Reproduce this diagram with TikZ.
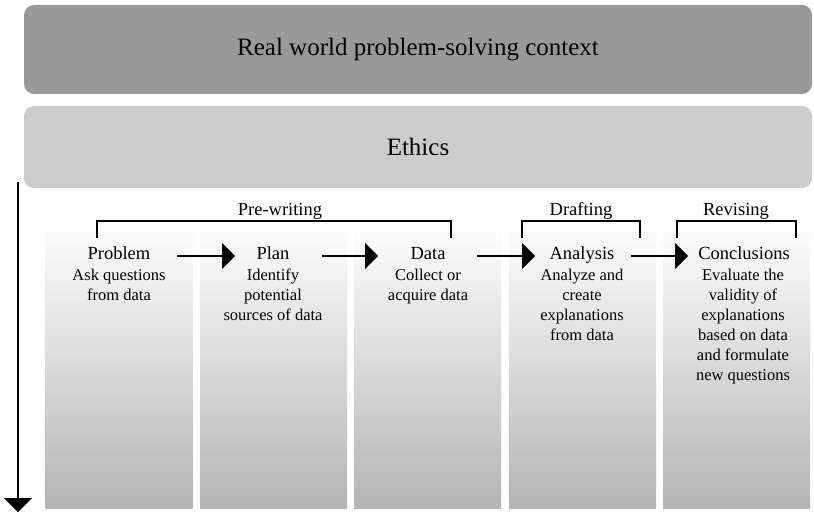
\documentclass[tikz,border=0pt]{standalone}
\usepackage{fontspec}
\setmainfont{Liberation Serif}
\usetikzlibrary{arrows.meta,shapes.geometric}
\definecolor{ctxgray}{RGB}{153,153,153}
\definecolor{ethgray}{RGB}{204,204,204}
\definecolor{colbot}{RGB}{180,180,180}
\tikzset{
  bigbox/.style={rounded corners=10pt, draw=none, minimum width=788pt, inner sep=0pt},
  colbox/.style={draw=none, minimum width=147pt, minimum height=285pt, inner sep=0pt,
                 top color=white, bottom color=colbot},
  ttl/.style={font=\fontsize{18.5}{20}\selectfont, anchor=base, inner sep=0pt},
  body/.style={font=\fontsize{16.5}{20}\selectfont, anchor=base, align=center, inner sep=0pt},
  brk/.style={line width=1.2pt},
  brklbl/.style={font=\fontsize{18.5}{20}\selectfont, anchor=base, inner sep=0pt},
  flow/.style={line width=1.2pt, -{Triangle[length=13pt,width=26pt]}},
}
\begin{document}
\begin{tikzpicture}[x=1pt,y=-1pt]
\useasboundingbox (0,0) rectangle (814,513);
% top boxes
\node[bigbox, fill=ctxgray, minimum height=89pt, font=\fontsize{25}{28}\selectfont] (ctx) at (418,49.5) {Real world problem-solving context};
\node[bigbox, fill=ethgray, minimum height=82pt, font=\fontsize{25}{28}\selectfont] (eth) at (418,147) {Ethics};
% vertical arrow
\coordinate (vtop) at (18,182);
\coordinate (vbot) at (18,512);
\draw[line width=1.2pt, -{Triangle[length=14pt,width=28pt]}] (vtop) -- (vbot);
% columns
\node[colbox] (c1) at (119,365.5) {};
\node[colbox] (c2) at (273.5,365.5) {};
\node[colbox] (c3) at (427.5,365.5) {};
\node[colbox] (c4) at (582.5,365.5) {};
\node[colbox] (c5) at (736.5,365.5) {};
% titles
\node[ttl] (t1) at (119,259) {Problem};
\node[ttl] (t2) at (273,259) {Plan};
\node[ttl] (t3) at (428,259) {Data};
\node[ttl] (t4) at (582,259) {Analysis};
\node[ttl] (t5) at (744,259) {Conclusions};
% bodies (base anchor = baseline of last line)
\node[body] (b1) at (119,300) {Ask questions\\from data};
\node[body] (b2) at (273,320) {Identify\\potential\\sources of data};
\node[body] (b3) at (428,300) {Collect or\\acquire data};
\node[body] (b4) at (582,340) {Analyze and\\create\\explanations\\from data};
\node[body] (b5) at (743,380) {Evaluate the\\validity of\\explanations\\based on data\\and formulate\\new questions};
% flow arrows
\coordinate (a1s) at (177,256); \coordinate (a1e) at (235,256);
\coordinate (a2s) at (322,256); \coordinate (a2e) at (378,256);
\coordinate (a3s) at (477,256); \coordinate (a3e) at (535,256);
\coordinate (a4s) at (631,256); \coordinate (a4e) at (688,256);
\draw[flow] (a1s) -- (a1e);
\draw[flow] (a2s) -- (a2e);
\draw[flow] (a3s) -- (a3e);
\draw[flow] (a4s) -- (a4e);
% brackets
\coordinate (p1) at (97,238); \coordinate (p2) at (451,238);
\draw[brk] (p1) -- ++(0,-17) -| (p2);
\node[brklbl] (lp) at (280,216) {Pre-writing};
\coordinate (d1) at (522,238); \coordinate (d2) at (640,238);
\draw[brk] (d1) -- ++(0,-17) -| (d2);
\node[brklbl] (ld) at (581,216) {Drafting};
\coordinate (r1) at (677,238); \coordinate (r2) at (796,238);
\draw[brk] (r1) -- ++(0,-17) -| (r2);
\node[brklbl] (lr) at (736,216) {Revising};
\end{tikzpicture}
\end{document}
